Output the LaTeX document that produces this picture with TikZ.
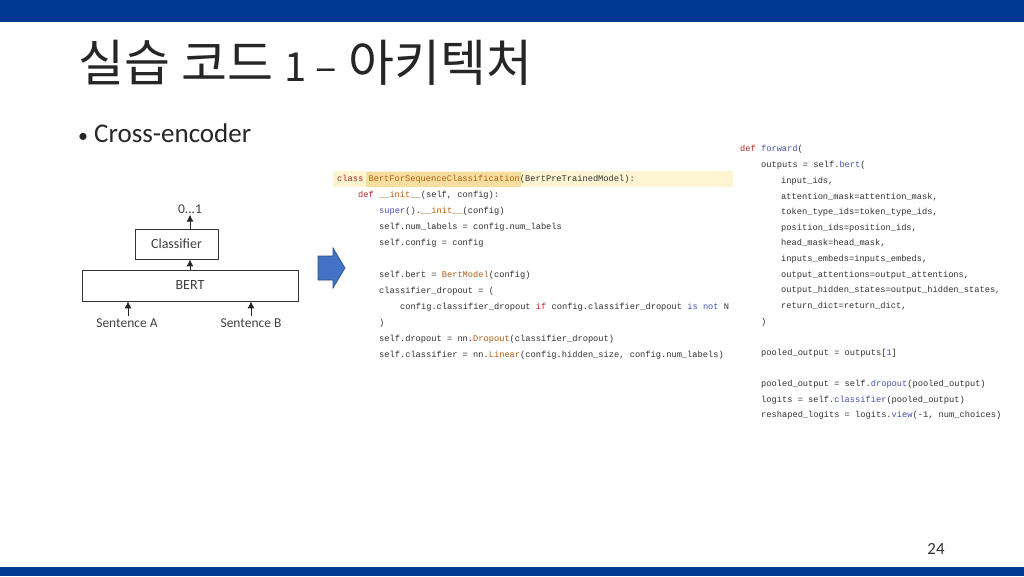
\documentclass[tikz,border=0pt]{standalone}
\usepackage{fontspec}
\setmainfont{Carlito}
\setmonofont{Liberation Mono}
\newfontfamily\kr{Noto Sans CJK KR}
\usetikzlibrary{shapes.arrows,arrows.meta}
\definecolor{topblue}{RGB}{0,56,147}
\definecolor{kwred}{RGB}{190,40,40}
\definecolor{fnorange}{RGB}{180,95,20}
\definecolor{bltxt}{RGB}{70,80,180}
\definecolor{codegray}{RGB}{50,50,50}
\definecolor{hlyellow}{RGB}{253,245,210}
\definecolor{hldark}{RGB}{245,222,160}
\definecolor{arrowblue}{RGB}{68,114,196}
\newcommand{\Kw}[1]{\textcolor{kwred}{#1}}
\newcommand{\Fn}[1]{\textcolor{fnorange}{#1}}
\newcommand{\Bl}[1]{\textcolor{bltxt}{#1}}
\tikzset{
  code/.style={anchor=west,inner sep=0pt,font=\ttfamily\fontsize{8.7}{9}\selectfont,text=codegray},
  diabox/.style={draw=black!80,line width=0.8pt,minimum height=30pt,inner sep=0pt,font=\fontsize{14}{14}\selectfont,text=black!75},
  lbl/.style={inner sep=1pt,font=\fontsize{13.5}{14}\selectfont,text=black!75},
  up/.style={-{Latex[length=7pt,width=7pt]},line width=0.9pt,black!85}
}
\begin{document}
\begin{tikzpicture}[x=1pt,y=-1pt]
\useasboundingbox (0,0) rectangle (1024,576);
\fill[white] (0,0) rectangle (1024,576);
\fill[topblue] (0,0) rectangle (1024,22);
\fill[topblue] (0,567) rectangle (1024,576);
\node[anchor=west,inner sep=0pt,font=\kr\fontsize{50}{54}\selectfont,text=black!85] (title) at (78,63) {실습 코드 {\fontsize{40}{44}\selectfont 1 –} 아키텍처};
\node[anchor=west,inner sep=0pt,font=\fontsize{27}{30}\selectfont,text=black!85] (bullet) at (78,133) {\fontsize{20}{20}\selectfont•\hspace{6pt}\fontsize{27}{30}\selectfont Cross-encoder};
\node[inner sep=0pt,font=\fontsize{17}{18}\selectfont,text=black!80] (pg) at (936,549) {24};
% diagram
\node[diabox,minimum width=83pt] (cls) at (176.5,244) {Classifier};
\node[diabox,minimum width=216pt,minimum height=31pt] (bert) at (190,285.5) {BERT};
\node[lbl] (out) at (190,209) {0...1};
\node[lbl] (sa) at (127,323) {Sentence A};
\node[lbl] (sb) at (251,323) {Sentence B};
\draw[up] (cls.north -| out) -- (out.south);
\draw[up] (bert.north -| out) -- (cls.south -| out);
\draw[up] (sa.north -| 128,0) ++(0,-1) coordinate (sat) (sat) -- (sat |- bert.south);
\draw[up] (sb.north) ++(0,-1) coordinate (sbt) (sbt) -- (sbt |- bert.south);
% block arrow
\draw[arrowblue!70!black,fill=arrowblue,line width=0.6pt] (318,256) -- (333,256) -- (333,248) -- (345,268) -- (333,288) -- (333,280) -- (318,280) -- cycle;
% left code
\fill[hlyellow] (333,171) rectangle (733,187);
\fill[hldark] (366,171.5) rectangle (521,186.5);
\node[code] (l1) at (337,179) {\Kw{class} \Fn{BertForSequenceClassification}(BertPreTrainedModel):};
\node[code] (l2) at (358,195) {\Kw{def} \Fn{\_\_init\_\_}(self, config):};
\node[code] (l3) at (379,211) {\Bl{super}().\Fn{\_\_init\_\_}(config)};
\node[code] (l4) at (379,227) {self.num\_labels = config.num\_labels};
\node[code] (l5) at (379,243) {self.config = config};
\node[code] (l6) at (379,275) {self.bert = \Fn{BertModel}(config)};
\node[code] (l7) at (379,291) {classifier\_dropout = (};
\node[code] (l8) at (400,307) {config.classifier\_dropout \Kw{if} config.classifier\_dropout \Bl{is not} N};
\node[code] (l9) at (379,323) {)};
\node[code] (l10) at (379,339) {self.dropout = nn.\Fn{Dropout}(classifier\_dropout)};
\node[code] (l11) at (379,355) {self.classifier = nn.\Fn{Linear}(config.hidden\_size, config.num\_labels)};
% right code
\node[code] (r1) at (740,149) {\Kw{def} \Bl{forward}(};
\node[code] (r2) at (761,165) {outputs = self.\Bl{bert}(};
\node[code] (r3) at (781,181) {input\_ids,};
\node[code] (r4) at (781,197) {attention\_mask=attention\_mask,};
\node[code] (r5) at (781,212) {token\_type\_ids=token\_type\_ids,};
\node[code] (r6) at (781,228) {position\_ids=position\_ids,};
\node[code] (r7) at (781,243) {head\_mask=head\_mask,};
\node[code] (r8) at (781,259) {inputs\_embeds=inputs\_embeds,};
\node[code] (r9) at (781,275) {output\_attentions=output\_attentions,};
\node[code] (r10) at (781,290) {output\_hidden\_states=output\_hidden\_states,};
\node[code] (r11) at (781,306) {return\_dict=return\_dict,};
\node[code] (r12) at (761,322) {)};
\node[code] (r13) at (761,353) {pooled\_output = outputs[\Bl{1}]};
\node[code] (r14) at (761,384) {pooled\_output = self.\Bl{dropout}(pooled\_output)};
\node[code] (r15) at (761,400) {logits = self.\Bl{classifier}(pooled\_output)};
\node[code] (r16) at (761,415) {reshaped\_logits = logits.\Bl{view}(-1, num\_choices)};
\end{tikzpicture}
\end{document}
